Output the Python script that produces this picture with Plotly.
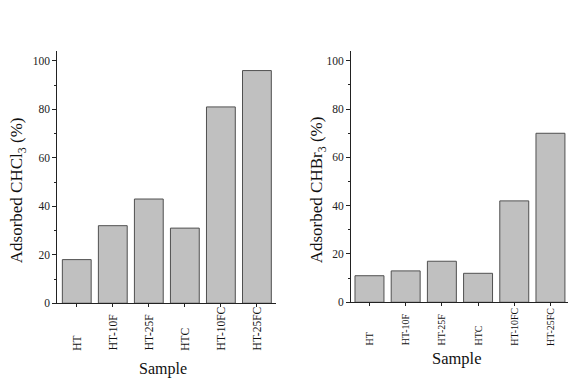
import plotly.graph_objects as go

samples = ["HT", "HT-10F", "HT-25F", "HTC", "HT-10FC", "HT-25FC"]
chcl3 = [18, 32, 43, 31, 81, 96]
chbr3 = [11, 13, 17, 12, 42, 70]
y_ticks = [0, 20, 40, 60, 80, 100]

FONT = "Liberation Serif, Times New Roman, serif"
BAR_FILL = "#c0c0c0"
BAR_EDGE = "#505050"
AXIS = "#222222"

fig = go.Figure()
fig.add_trace(go.Bar(x=samples, y=chcl3, xaxis="x", yaxis="y", width=0.8,
                     marker=dict(color=BAR_FILL, line=dict(color=BAR_EDGE, width=1))))
fig.add_trace(go.Bar(x=samples, y=chbr3, xaxis="x2", yaxis="y2", width=0.8,
                     marker=dict(color=BAR_FILL, line=dict(color=BAR_EDGE, width=1))))

xcommon = dict(type="category", categoryorder="array", categoryarray=samples,
               showticklabels=False, ticks="outside", ticklen=3, tickcolor=AXIS,
               showline=True, linecolor=AXIS, linewidth=1, showgrid=False, zeroline=False)
ycommon = dict(range=[0, 104], tickvals=y_ticks, ticks="outside", ticklen=4, tickcolor=AXIS,
               minor=dict(dtick=10, ticks="outside", ticklen=2, tickcolor=AXIS),
               showline=True, linecolor=AXIS, linewidth=1, showgrid=False, zeroline=False,
               tickfont=dict(family=FONT, size=11.5, color="#222"))

fig.update_layout(
    width=586, height=390,
    margin=dict(l=0, r=0, t=0, b=0),
    paper_bgcolor="white", plot_bgcolor="white",
    showlegend=False, bargap=0.2,
    xaxis=dict(domain=[0.0978, 0.471], range=[-0.54, 5.53], anchor="y", **xcommon),
    yaxis=dict(domain=[0.2103, 0.8667], anchor="x", **ycommon),
    xaxis2=dict(domain=[0.599, 0.969], range=[-0.51, 5.48], anchor="y2", **xcommon),
    yaxis2=dict(domain=[0.2128, 0.8667], anchor="x2", **ycommon),
)

ann = []
for s in samples:
    ann.append(dict(x=s, xref="x", y=0.082, yref="paper", text=s, textangle=-90,
                    showarrow=False, xanchor="center", yanchor="bottom",
                    font=dict(family=FONT, size=11.5, color="#111")))
    ann.append(dict(x=s, xref="x2", y=0.095, yref="paper", text=s, textangle=-90,
                    showarrow=False, xanchor="center", yanchor="bottom",
                    font=dict(family=FONT, size=10, color="#111")))

ann.append(dict(x=0.278, y=0.038, xref="paper", yref="paper", text="Sample", showarrow=False,
                xanchor="center", yanchor="middle",
                font=dict(family=FONT, size=16, color="#111")))
ann.append(dict(x=0.78, y=0.067, xref="paper", yref="paper", text="Sample", showarrow=False,
                xanchor="center", yanchor="middle",
                font=dict(family=FONT, size=16.5, color="#111")))
ann.append(dict(x=0.031, y=0.505, xref="paper", yref="paper", text="Adsorbed CHCl<sub>3</sub> (%)",
                textangle=-90, showarrow=False, xanchor="center", yanchor="middle",
                font=dict(family=FONT, size=17, color="#111")))
ann.append(dict(x=0.543, y=0.505, xref="paper", yref="paper", text="Adsorbed CHBr<sub>3</sub> (%)",
                textangle=-90, showarrow=False, xanchor="center", yanchor="middle",
                font=dict(family=FONT, size=17, color="#111")))
fig.update_layout(annotations=ann)

fig.write_html("out.html", config={"displayModeBar": False},
               post_script=("document.documentElement.style.margin='0';"
                            "document.documentElement.style.overflow='hidden';"
                            "document.body.style.margin='0';"
                            "document.body.style.overflow='hidden';"))
